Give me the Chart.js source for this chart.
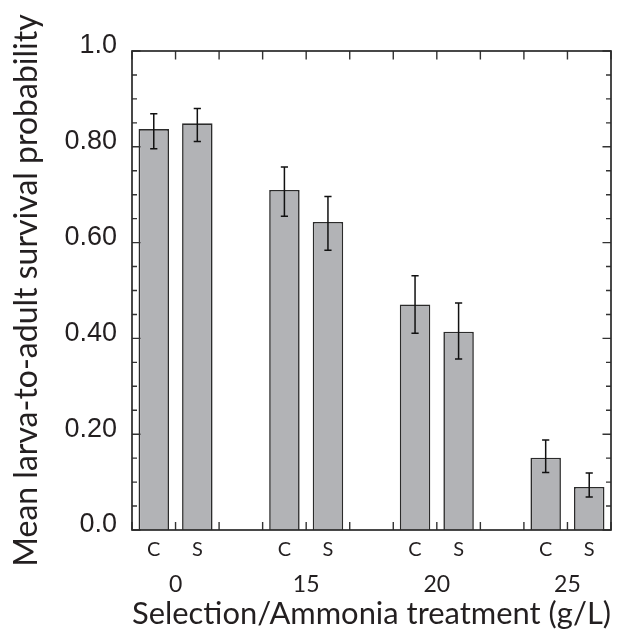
<!DOCTYPE html>
<html><head><meta charset="utf-8">
<script src="https://cdn.jsdelivr.net/npm/chart.js@4.4.1/dist/chart.umd.min.js"></script>
<style>html,body{margin:0;padding:0;background:#fff;}#wrap{width:628px;height:635px;}</style>
</head><body><div id="wrap"><canvas id="c" width="628" height="635"></canvas></div>
<script>
// ---- data ----
const treatments = ["0", "15", "20", "25"];
const selectionLines = ["C", "S"];
const meanC = [0.837, 0.710, 0.471, 0.151];
const meanS = [0.849, 0.643, 0.414, 0.090];
const errLowC = [0.796, 0.655, 0.411, 0.120];
const errHighC = [0.869, 0.758, 0.531, 0.188];
const errLowS = [0.811, 0.584, 0.357, 0.069];
const errHighS = [0.880, 0.696, 0.474, 0.119];
const yTickLabels = ["0.0", "0.20", "0.40", "0.60", "0.80", "1.0"];
const yTitle = "Mean larva-to-adult survival probability";
const xTitle = "Selection/Ammonia treatment (g/L)";

// group layout: each treatment occupies 3 slots (C, S, gap)
const slot = (g, s) => 3 * g + s + 0.5;
const xMax = 3 * treatments.length - 1;
const errLow = [errLowC, errLowS];
const errHigh = [errHighC, errHighS];

const barTicks = [];
treatments.forEach((t, g) => selectionLines.forEach((s, k) => barTicks.push(slot(g, k))));

const TEXT = '#231f20';

const framePlugin = {
  id: 'frame',
  afterDatasetsDraw(chart) {
    const {ctx, chartArea: a, scales: {x, y}} = chart;
    ctx.save();
    // error bars
    ctx.strokeStyle = '#111';
    ctx.lineWidth = 1.5;
    chart.data.datasets.forEach((ds, d) => {
      const meta = chart.getDatasetMeta(d);
      meta.data.forEach((bar, i) => {
        const px = bar.x;
        const yl = y.getPixelForValue(errLow[d][i]);
        const yh = y.getPixelForValue(errHigh[d][i]);
        ctx.beginPath();
        ctx.moveTo(px, yl); ctx.lineTo(px, yh);
        ctx.moveTo(px - 3.6, yl); ctx.lineTo(px + 3.6, yl);
        ctx.moveTo(px - 3.6, yh); ctx.lineTo(px + 3.6, yh);
        ctx.stroke();
      });
    });
    // ticks
    ctx.strokeStyle = '#333';
    ctx.lineWidth = 1.4;
    ctx.beginPath();
    for (let v = 0; v <= xMax; v++) {
      const px = x.getPixelForValue(v);
      ctx.moveTo(px, a.top); ctx.lineTo(px, a.top + 8.5);
      ctx.moveTo(px, a.bottom); ctx.lineTo(px, a.bottom - 8);
    }
    for (let k = 0; k <= 20; k++) {
      const py = y.getPixelForValue(k * 0.05);
      const len = k % 4 === 0 ? 8.5 : 5;
      ctx.moveTo(a.left, py); ctx.lineTo(a.left + len, py);
      ctx.moveTo(a.right, py); ctx.lineTo(a.right - len, py);
    }
    ctx.stroke();
    // frame
    ctx.lineWidth = 1.7;
    ctx.strokeStyle = '#2a2a2a';
    ctx.strokeRect(a.left, a.top, a.right - a.left, a.bottom - a.top);
    ctx.restore();
  }
};

const barStyle = {
  backgroundColor: '#b2b3b6',
  borderColor: '#2b2b2b',
  borderWidth: 1.6,
  grouped: false,
  barPercentage: 0.7,
  categoryPercentage: 1.0
};

new Chart(document.getElementById('c'), {
  type: 'bar',
  data: {
    datasets: selectionLines.map((s, k) => Object.assign({
      label: s,
      data: (k === 0 ? meanC : meanS).map((v, g) => ({x: slot(g, k), y: v}))
    }, barStyle))
  },
  options: {
    responsive: false,
    animation: false,
    devicePixelRatio: 1,
    layout: {padding: {top: 51, right: 17, bottom: 0, left: 0}},
    plugins: {legend: {display: false}, tooltip: {enabled: false}},
    scales: {
      x: {
        type: 'linear', position: 'bottom', min: 0, max: xMax, offset: false,
        grid: {display: false, drawTicks: false}, border: {display: false},
        afterBuildTicks: (s) => { s.ticks = barTicks.map(v => ({value: v})); },
        afterFit: (s) => { s.height = 36; },
        ticks: {
          autoSkip: false, maxRotation: 0, padding: 8, color: TEXT,
          font: {family: 'Lato', size: 20},
          callback: (v, i) => selectionLines[i % selectionLines.length]
        }
      },
      x2: {
        type: 'linear', axis: 'x', position: 'bottom', min: 0, max: xMax, offset: false,
        grid: {display: false, drawTicks: false}, border: {display: false},
        afterBuildTicks: (s) => { s.ticks = treatments.map((t, g) => ({value: 3 * g + 1})); },
        afterFit: (s) => { s.height = 69; },
        ticks: {
          autoSkip: false, maxRotation: 0, padding: 4.5, color: TEXT,
          font: {family: 'Lato', size: 23},
          callback: (v, i) => treatments[i]
        },
        title: {
          display: true, text: xTitle, color: TEXT,
          font: {family: 'Lato', size: 31}, padding: {top: 0, bottom: 2}
        }
      },
      y: {
        type: 'linear', position: 'left', min: 0, max: 1,
        grid: {display: false, drawTicks: false}, border: {display: false},
        afterFit: (s) => { s.width = 132; },
        ticks: {
          stepSize: 0.2, padding: 15, labelOffset: -5, color: TEXT,
          font: {family: 'Liberation Sans', size: 27},
          callback: (v, i) => yTickLabels[i]
        },
        title: {
          display: true, text: yTitle, color: TEXT,
          font: {family: 'Lato', size: 32}, padding: {top: 7, bottom: 0}
        }
      }
    }
  },
  plugins: [framePlugin]
});
</script>
</body></html>
